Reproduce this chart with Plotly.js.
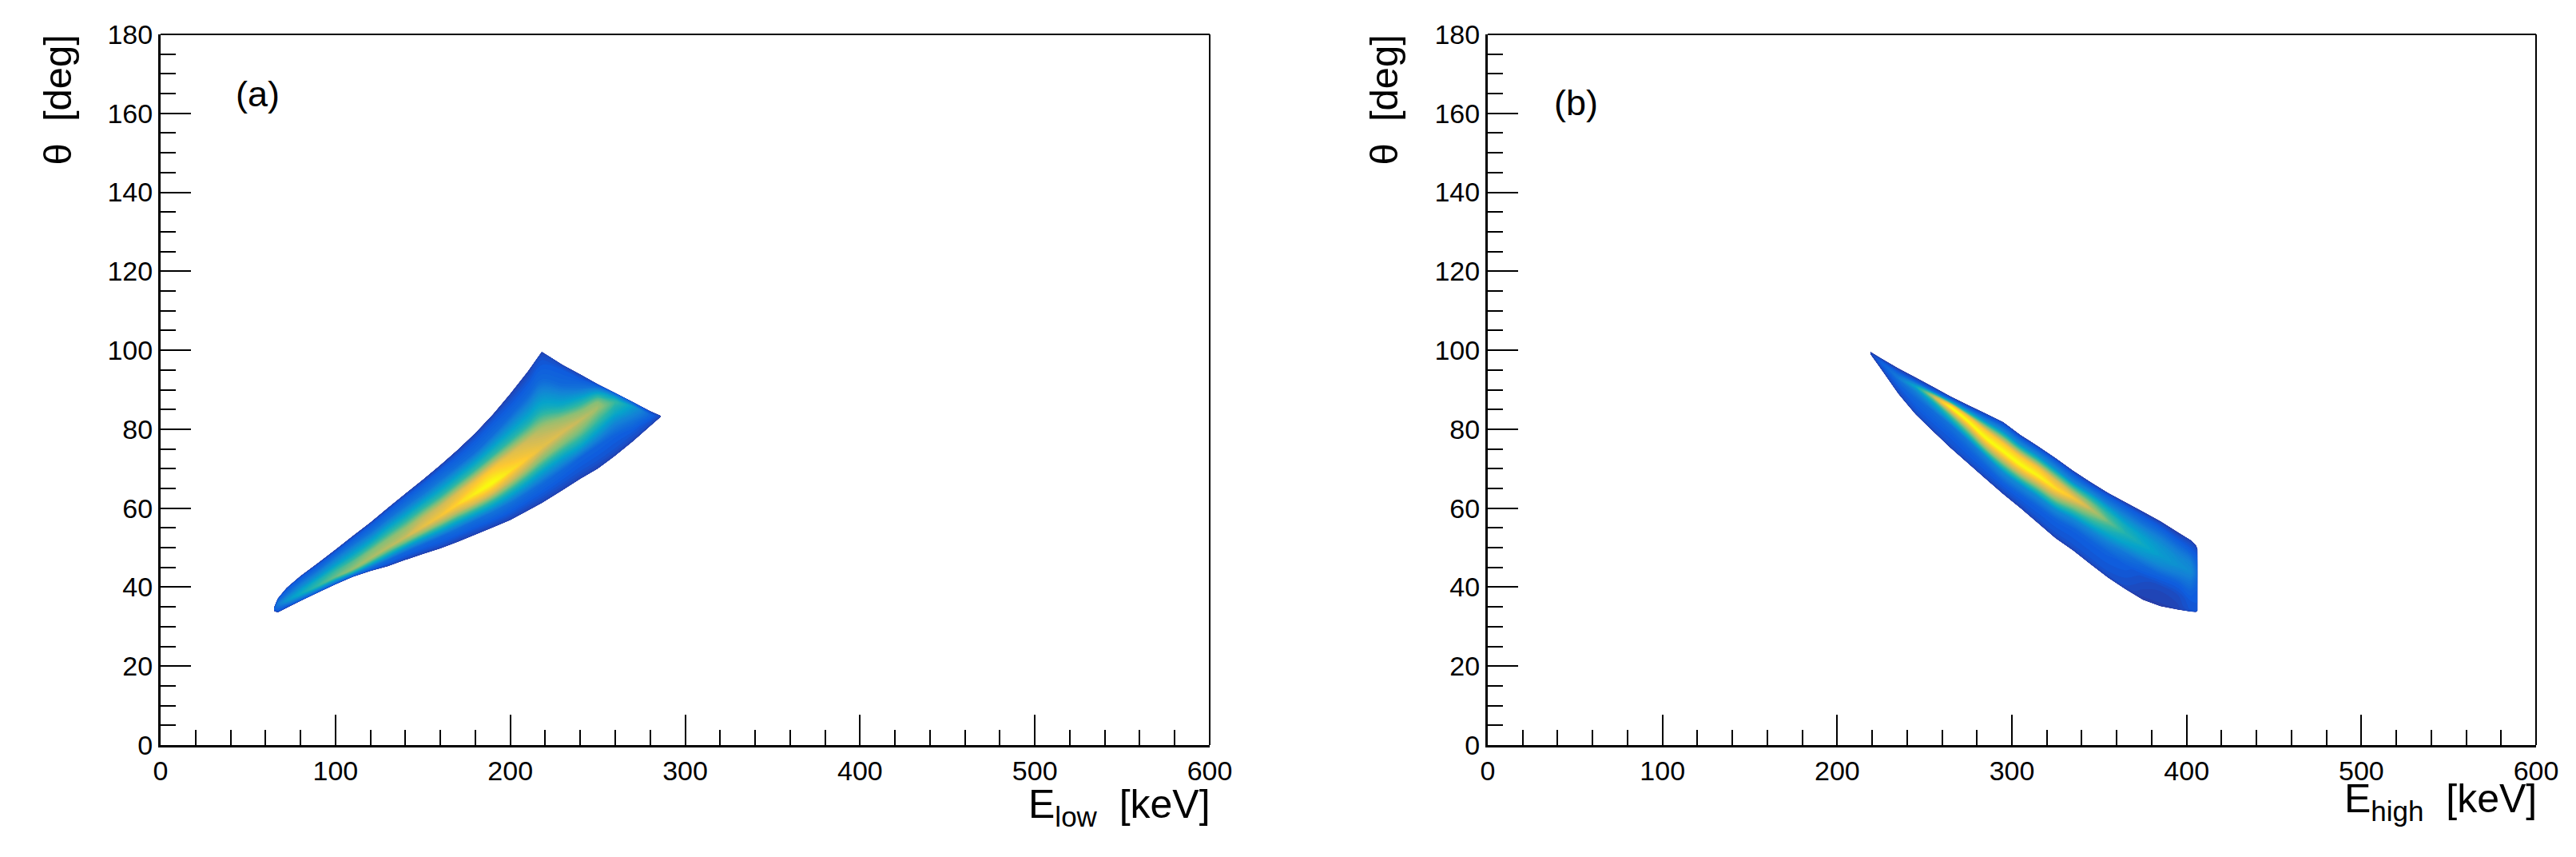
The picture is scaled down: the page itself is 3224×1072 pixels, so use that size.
<!DOCTYPE html>
<html><head><meta charset="utf-8">
<script src="https://cdn.plot.ly/plotly-3.0.1.min.js"></script>
<style>html,body{margin:0;padding:0;background:#fff}</style>
</head><body><div id="chart" style="width:3224px;height:1072px"></div>
<script>
// Each energy column holds 11 points across the band, from its lower edge to its upper edge.
const acrossBand=[0,1,2,3,4,5,6,7,8,9,10];
const lowEnergy=[65,67,72,80,90,100,110,120,130,140,150,160,170,180,190,200,210,218,230,240,250,260,270,280,286];
const lowTheta=[
[33.9,34,34.1,34.2,34.3,34.4,34.5,34.6,34.7,34.8,35],
[33.6,34,34.5,35,35.4,35.8,36.1,36.4,36.7,36.9,37.1],
[34.7,35.1,35.6,36,36.3,36.6,37.3,38.1,38.9,39.4,39.8],
[36.5,36.7,37.1,37.5,37.9,38.3,39.2,40.1,41.5,42.4,42.8],
[38.6,38.8,39.2,39.6,40,40.4,41.6,42.8,44.5,45.6,46.1],
[40.7,40.9,41.3,41.8,42.2,42.6,44.1,45.6,47.8,48.9,49.5],
[42.6,42.8,43.3,43.7,44.2,44.6,46.4,48.1,50.8,52.3,53],
[44.1,44.4,45.2,45.9,46.6,47.3,49.2,51,53.8,55.7,56.4],
[45.3,45.8,46.9,47.9,49,50,52.1,54.2,57.3,59.3,60.1],
[46.9,47.5,48.8,50.1,51.3,52.6,54.9,57.2,60.6,62.8,63.7],
[48.4,49.1,50.7,52.3,53.8,55.3,57.7,60.1,63.6,66.2,67.2],
[49.8,50.6,52.6,54.4,56.2,58,60.6,63.3,67.2,69.8,70.9],
[51.5,52.5,54.7,56.8,58.9,61,63.8,66.6,70.8,73.7,74.8],
[53.3,54.3,56.8,59.1,61.4,63.7,66.7,69.8,74.3,77.8,79],
[55.1,56.2,59,61.5,64,66.5,70,73.4,78.6,82.4,83.7],
[57,58.2,61.2,64,66.8,69.5,73.5,77.4,83.4,87.4,89],
[59.4,60.7,63.9,66.8,69.8,72.7,77.2,81.6,88.3,92.8,94.6],
[61.3,62.7,66.1,69.2,72.3,75.4,80.2,85.1,92.3,97.9,99.6],
[64.6,66.1,69.6,72.8,76.1,79.3,82.7,86.1,91.2,95,96.3],
[67.4,69,72.7,75.6,79,82.3,84.6,87,90.4,92.8,93.9],
[70,71.7,75.7,79,82.2,85.5,86.8,88,89.6,90.8,91.4],
[73.3,74.8,78.3,81.5,84.2,86.8,87.4,87.9,88.4,88.9,89.2],
[76.9,77.8,79.9,81.9,83.8,85.8,86,86.2,86.6,86.8,86.9],
[80.8,81.1,81.8,82.4,83,83.6,83.8,84,84.3,84.5,84.6],
[83.1,83.14,83.18,83.2,83.24,83.27,83.3,83.33,83.36,83.38,83.4]];
const lowLevel=[
[5,8,10,12,14,15,14,12,10,8,5],
[6,12,16,19,21,22,20,17,14,11,6],
[6,12,20,26,30,32,28,20,15,12,6],
[6,14,20,28,36,40,36,28,17,12,6],
[6,14,22,32,43,50,44,32,18,12,6],
[6,14,24,36,50,58,51,36,19,12,6],
[6,14,26,42,56,64,56,40,20,12,6],
[6,13,24,42,58,68,60,42,20,12,6],
[6,11,18,36,56,70,62,44,20,12,6],
[6,10,16,34,57,73,64,45,20,12,6],
[6,10,16,36,62,80,70,48,21,12,6],
[6,10,16,38,65,84,73,47,20,12,6],
[6,10,18,41,70,90,77,48,18,11,6],
[6,10,18,44,76,97,83,50,18,11,6],
[6,10,20,46,78,100,85,50,18,11,6],
[6,10,19,43,73,93,79,47,17,10,6],
[6,10,18,40,67,86,73,44,17,10,6],
[6,10,17,37,62,80,68,42,17,10,6],
[6,10,16,36,60,76,64,40,17,12,7],
[6,10,15,37,58,72,62,44,20,12,7],
[6,10,15,34,52,66,62,52,32,16,8],
[6,10,14,26,40,50,46,38,28,18,8],
[6,9,13,19,27,34,30,24,18,12,7],
[6,8,10,12,14,15,14,12,10,8,6],
[5,6,6,7,7,7,7,7,6,6,5]];
const highEnergy=[219,225,235,245,255,265,275,285,295,305,315,325,335,345,355,365,375,385,395,402.4,405.3,406.2];
const highTheta=[
[99,99.06,99.12,99.18,99.24,99.3,99.36,99.42,99.48,99.54,99.6],
[95.3,95.6,95.9,96.2,96.6,97,97.2,97.4,97.6,97.8,98],
[89,89.6,90.4,91.2,92.2,93,93.6,94,94.4,94.9,95.4],
[83.7,84.5,86,87.6,89.4,90.8,91.3,91.7,92.1,92.6,93.1],
[79.4,80.2,82,84.5,86.8,88.3,88.8,89.2,89.6,90.2,90.7],
[75.2,76,78.4,81,83.4,85.6,86.2,86.8,87.3,87.8,88.3],
[71.3,72.1,74.6,77,79.6,82,83.2,84,84.8,85.5,86.1],
[67.4,68.3,70.5,73,75.3,77.8,79.6,81,82,83.2,84],
[63.6,64.6,66.4,69,71.7,74.4,76.4,78,79.4,80.9,81.8],
[60,61,63.2,65.8,68.4,71,73,74.6,76,77.6,78.5],
[56.2,57.2,60.2,62.8,65.5,68.2,70.2,71.8,73.2,74.8,75.7],
[52.4,53.4,57,59.6,62.3,65,67,68.6,70,71.8,72.7],
[49.3,50.3,54.6,57.2,59.9,62.6,64,65.4,66.6,68.4,69.5],
[45.8,46.8,51.5,54.3,57,59.8,61.4,62.8,64,65.6,66.6],
[42.4,43.4,48.5,51.2,54,56.6,58.4,60,61.2,63,63.9],
[39.5,40.5,45.5,48.5,51,53.6,55.5,57.2,58.8,60.6,61.5],
[36.8,37.6,42.5,45.5,48.2,50.7,52.8,54.6,56.2,58.2,59.1],
[35.2,36,40,43,45.5,48,50,52,53.8,55.8,56.7],
[34.3,35,38,41,43.2,45.5,47.5,49.2,51,53,53.9],
[33.8,34.4,36.5,39,41.8,44,45.8,47.3,49,51,51.9],
[33.7,34.2,36,38.5,41,43.2,45,46.5,48,49.7,50.6],
[34,34.5,36,38.5,41,43.2,44.6,45.8,47,48.8,49.7]];
const highLevel=[
[5,5,6,6,7,7,7,6,6,5,5],
[6,8,10,11,13,14,13,12,10,8,5],
[6,9,11,14,18,22,20,17,13,9,5],
[6,10,13,16,24,38,30,21,14,9,5],
[6,10,13,18,40,72,58,36,18,10,5],
[6,10,13,20,54,100,82,46,24,12,5],
[6,10,14,22,62,100,84,50,26,12,5],
[6,10,14,26,66,100,86,56,30,13,6],
[6,10,14,28,68,100,86,58,30,14,6],
[6,10,14,28,68,100,86,58,30,14,6],
[6,10,14,28,66,98,84,56,30,14,6],
[6,10,14,28,63,92,78,54,29,14,6],
[6,10,14,27,57,85,70,50,28,14,6],
[6,10,14,26,50,72,60,44,27,13,6],
[6,10,14,24,42,58,50,37,24,13,6],
[6,9,13,21,36,46,41,31,21,12,5],
[5,6,10,17,31,40,36,28,19,11,5],
[5,6,8,15,27,34,32,26,18,10,5],
[6,7,9,14,23,30,28,23,16,9,5],
[9,11,12,15,22,28,26,21,14,9,6],
[10,11,12,13,16,20,19,16,13,9,6],
[10,11,12,13,15,17,16,15,12,9,6]];
const xTicks=[0,100,200,300,400,500,600];
const yTicks=[0,20,40,60,80,100,120,140,160,180];
const birdScale=[[0,'rgb(53,42,135)'],[.125,'rgb(15,92,221)'],[.25,'rgb(20,129,214)'],[.375,'rgb(6,164,202)'],[.5,'rgb(46,183,164)'],[.625,'rgb(135,191,119)'],[.75,'rgb(209,187,89)'],[.875,'rgb(254,200,50)'],[1,'rgb(249,251,14)']];

function transpose(m){return m[0].map((_,b)=>m.map(col=>col[b]));}
const hiddenAxis={showgrid:false,showticklabels:'none',showline:false,startline:false,endline:false,minorgridcount:0,smoothing:0,title:{text:''}};
function band(id,energy,theta,level,xa,ya){
 const stations=energy.map((_,i)=>i);
 return [{type:'carpet',carpet:id,a:stations,b:acrossBand,x:acrossBand.map(()=>energy),y:transpose(theta),aaxis:hiddenAxis,baxis:hiddenAxis,xaxis:xa,yaxis:ya},
 {type:'contourcarpet',carpet:id,a:stations,b:acrossBand,z:transpose(level),autocontour:false,contours:{start:0,end:100,size:1.5,coloring:'fill',showlines:false},line:{width:0},zmin:0,zmax:100,colorscale:birdScale,showscale:false,hoverinfo:'skip'}];
}

const W=3224,H=1072,T=43,B=932;
const font='"Liberation Sans",Arial,sans-serif';
function axX(l,r){return {domain:[l/W,r/W],range:[0,600],tickmode:'array',tickvals:xTicks,ticks:'inside',ticklen:38,tickwidth:2,tickcolor:'#000',showline:true,linewidth:3,linecolor:'#000',showgrid:false,zeroline:false,tickfont:{family:font,size:34,color:'#000'},minor:{dtick:20,ticks:'inside',ticklen:19,tickwidth:2,tickcolor:'#000',showgrid:false}};}
function axY(anchor){return {anchor:anchor,domain:[(H-B)/H,(H-T)/H],range:[0,180],tickmode:'array',tickvals:yTicks,ticks:'inside',ticklen:38,tickwidth:2,tickcolor:'#000',showline:true,linewidth:3,linecolor:'#000',showgrid:false,zeroline:false,tickfont:{family:font,size:34,color:'#000'},minor:{dtick:5,ticks:'inside',ticklen:19,tickwidth:2,tickcolor:'#000',showgrid:false}};}
function frame(xr,yr){return [{type:'line',xref:xr+' domain',yref:yr+' domain',x0:0,x1:1,y0:1,y1:1,line:{color:'#000',width:2}},{type:'line',xref:xr+' domain',yref:yr+' domain',x0:1,x1:1,y0:0,y1:1,line:{color:'#000',width:2}}];}
function note(text,x,y,size,extra){return Object.assign({text:text,x:x,y:y,xref:'paper',yref:'paper',xanchor:'center',yanchor:'middle',showarrow:false,font:{family:font,size:size,color:'#000'},borderpad:0},extra);}

const layout={width:W,height:H,margin:{l:0,r:0,t:0,b:0},paper_bgcolor:'#fff',plot_bgcolor:'#fff',showlegend:false,
 xaxis:axX(201,1514),yaxis:axY('x'),xaxis2:axX(1862,3174),yaxis2:axY('x2'),
 shapes:frame('x','y').concat(frame('x2','y2')),
 annotations:[
  note('(a)',322/W,(H-118)/H,45,{}),
  note('(b)',1972/W,(H-128)/H,45,{}),
  note('E<sub>low</sub>\u00a0\u00a0[keV]',1516/W,(H-1009)/H,50,{xanchor:'right'}),
  note('E<sub>high</sub>\u00a0\u00a0[keV]',3176/W,(H-1002)/H,50,{xanchor:'right'}),
  note('\u03b8\u00a0\u00a0[deg]',71/W,(H-43)/H,49,{textangle:-90,yanchor:'top'}),
  note('\u03b8\u00a0\u00a0[deg]',1731/W,(H-43)/H,49,{textangle:-90,yanchor:'top'})
 ]};
Plotly.newPlot('chart',band('low',lowEnergy,lowTheta,lowLevel,'x','y').concat(band('high',highEnergy,highTheta,highLevel,'x2','y2')),layout,{staticPlot:true,displayModeBar:false});
</script></body></html>
